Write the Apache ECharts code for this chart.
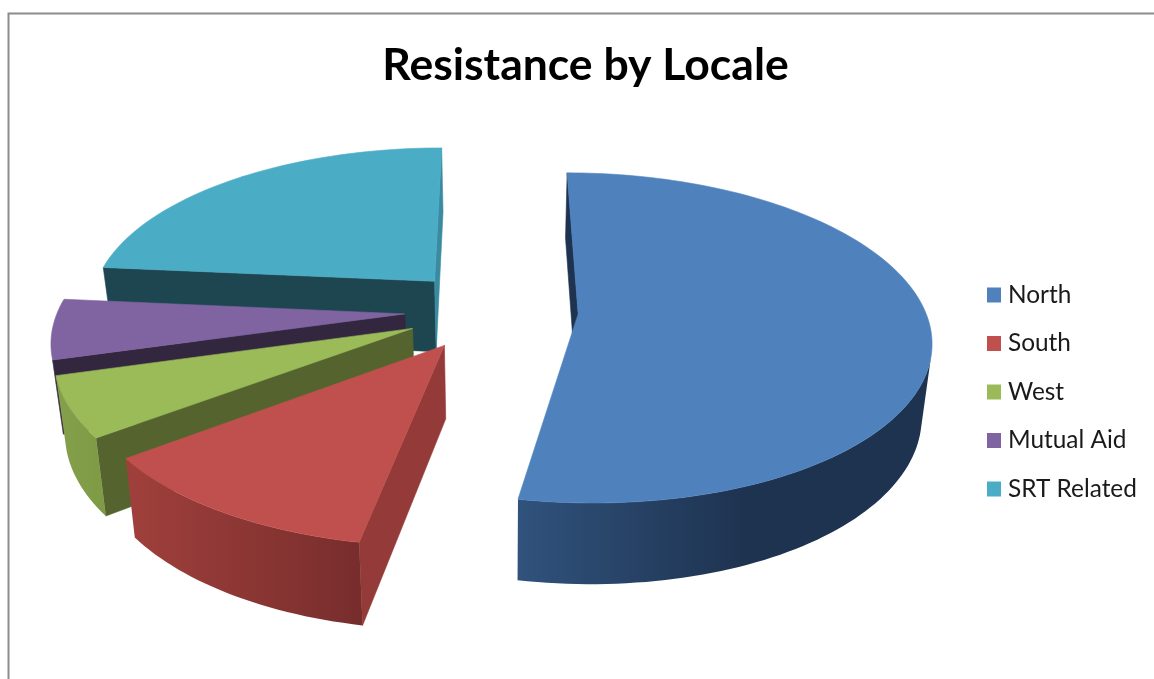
<!DOCTYPE html>
<html><head><meta charset="utf-8"><style>html,body{margin:0;background:#fff}#c{width:1154px;height:679px}</style>
<script src="https://cdn.jsdelivr.net/npm/echarts@6/dist/echarts.min.js"></script></head><body><div id="c"></div>
<script>
const categories=['North','South','West','Mutual Aid','SRT Related'];
const values=[9,2,1,1,4];
const topColors=['#4f81bd','#c0504d','#9bbb59','#8064a2','#4bacc6'];
const wallColors=[['#1e3350','#1e3350'],['#943a38','#943a38'],['#55642e','#55642e'],['#33263f','#33263f'],['#1e4650','#3a8ba0']];
const rimStops=[[[0,'#30527c'],[.55,'#1e3350'],[1,'#1e3350']],[[0,'#a0403c'],[1,'#772d2c']],[[0,'#84a04a'],[1,'#7e9a45']],[[0,'#33263f'],[1,'#33263f']],[[0,'#3a8ba0'],[1,'#3a8ba0']]];
const titleText='Resistance by Locale';
// projection of the pie plane (unit-radius pie, each slice exploded by `explode`)
const cam={cx:491.5,cy:310.2,fx:346.9,fy:160.5,t:.145};
const explode=.25;
const total=values.reduce((a,b)=>a+b,0);
function project(U,V){const s=1/(1-cam.t*V);return [cam.cx+cam.fx*U*s,cam.cy+cam.fy*V*s];}
function lower(P){return [P[0]+(500-P[0])*.024,P[1]+65+.0488*(P[1]-172)];}
function sliceGeom(i){
  let st=0;for(let k=0;k<i;k++)st+=values[k]/total*2*Math.PI;
  const en=st+values[i]/total*2*Math.PI,m=(st+en)/2;
  const ax=explode*Math.sin(m),ay=-explode*Math.cos(m);
  const n=Math.max(8,Math.round((en-st)*40)),rim=[];
  for(let k=0;k<=n;k++){const ph=st+(en-st)*k/n;rim.push(project(ax+Math.sin(ph),ay-Math.cos(ph)));}
  return {apex:project(ax,ay),rim};
}
function area(q){let A=0;for(let i=0;i<q.length;i++){const a=q[i],b=q[(i+1)%q.length];A+=a[0]*b[1]-b[0]*a[1];}return A;}
function quad(a,b){return [a,b,lower(b),lower(a)];}
function poly(points,fill){return {type:'polygon',shape:{points},style:{fill,stroke:typeof fill==='string'?fill:'none',lineWidth:.6}};}
function renderSlice(i){
  const g=sliceGeom(i),ch=[],rim=g.rim;
  const sw=quad(g.apex,rim[0]);if(area(sw)<0)ch.push(poly(sw,wallColors[i][0]));
  const ew=quad(rim[rim.length-1],g.apex);if(area(ew)<0)ch.push(poly(ew,wallColors[i][1]));
  let run=[];
  const flush=()=>{if(run.length>1){const pts=run.concat(run.map(lower).reverse());
    ch.push(poly(pts,new echarts.graphic.LinearGradient(0,0,1,0,rimStops[i].map(s=>({offset:s[0],color:s[1]})))));}run=[];};
  for(let k=0;k<rim.length-1;k++){
    if(area(quad(rim[k],rim[k+1]))<0){if(!run.length)run.push(rim[k]);run.push(rim[k+1]);}else flush();
  }
  flush();
  ch.push(poly([g.apex].concat(rim),topColors[i]));
  return {type:'group',children:ch};
}
const drawOrder=[4,3,2,1,0];
const series=drawOrder.map(i=>({type:'custom',name:categories[i],coordinateSystem:'none',silent:true,animation:false,
  itemStyle:{color:topColors[i]},data:[[values[i]]],renderItem:()=>renderSlice(i)}));
const ch=echarts.init(document.getElementById('c'));
ch.setOption({animation:false,backgroundColor:'#fff',
  title:{text:titleText,left:580.5,top:38.5,textAlign:'center',textStyle:{fontFamily:'Lato',fontWeight:'bold',fontSize:44.5,color:'#000'}},
  legend:{data:categories,orient:'vertical',left:987,top:283,icon:'rect',itemWidth:14,itemHeight:15,itemGap:24.5,padding:0,
    textStyle:{fontFamily:'Lato',fontSize:24.4,lineHeight:24,color:'#1a1a1a',padding:[0,0,0,2]}},
  graphic:[{type:'rect',silent:true,z:-1,shape:{x:8.5,y:13.5,width:1300,height:900},style:{fill:'none',stroke:'#8c8c8c',lineWidth:2}}],
  series});
</script></body></html>
